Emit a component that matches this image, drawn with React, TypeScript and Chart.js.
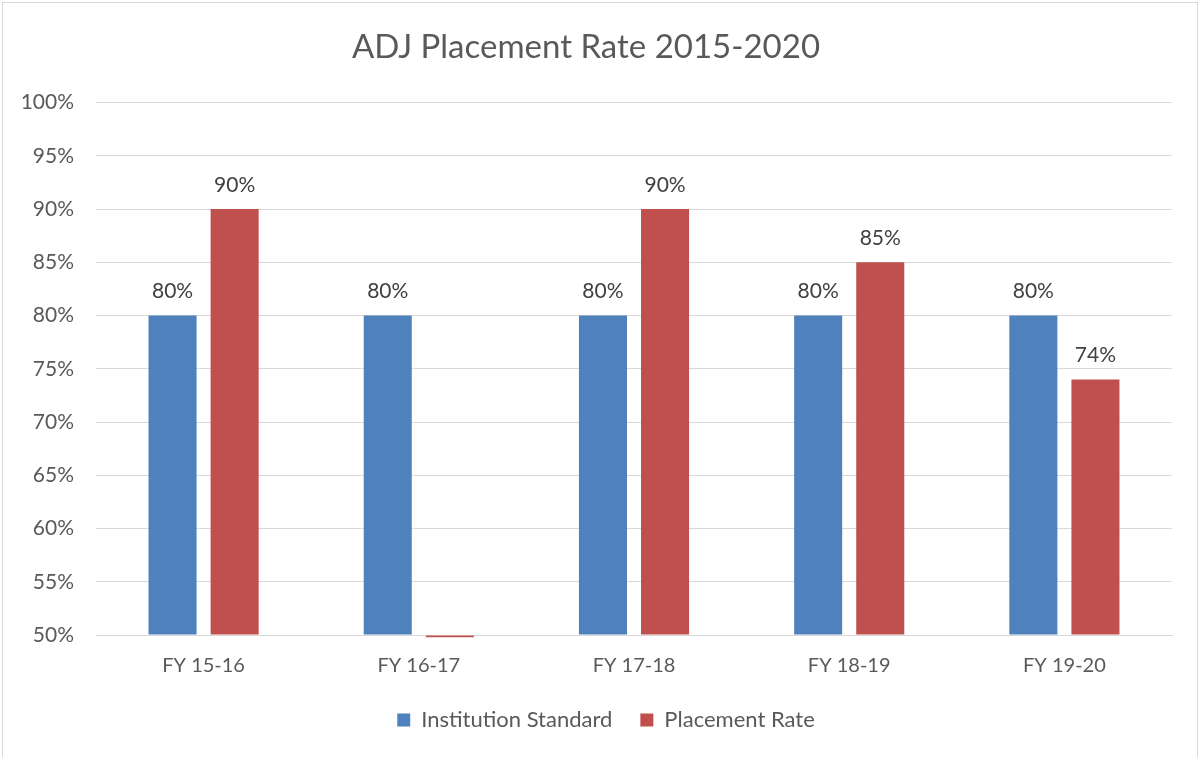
import React, { useEffect, useRef } from "react";
import { Chart, registerables } from "chart.js";

Chart.register(...registerables);

const categories = ["FY 15-16", "FY 16-17", "FY 17-18", "FY 18-19", "FY 19-20"];
const institutionStandard = [80, 80, 80, 80, 80];
const placementRate = [90, 49.8, 90, 85, 74];
const seriesNames = ["Institution Standard", "Placement Rate"];
const yTicks = [50, 55, 60, 65, 70, 75, 80, 85, 90, 95, 100];
const titleText = "ADJ Placement Rate 2015-2020";

const FONT = "Lato, 'Open Sans', sans-serif";

const labelPlugin = {
  id: "barLabels",
  afterLayout(chart: any) {
    // center the legend on the full canvas width
    if (chart.legend) {
      chart.legend.left += 20;
      chart.legend.right += 20;
    }
  },
  afterDatasetsDraw(chart: any) {
    const ctx = chart.ctx;
    const yScale = chart.scales.y;
    ctx.save();
    ctx.font = `21px ${FONT}`;
    ctx.fillStyle = "#404040";
    ctx.textAlign = "center";
    ctx.textBaseline = "middle";
    chart.data.datasets.forEach((ds: any, di: number) => {
      const meta = chart.getDatasetMeta(di);
      meta.data.forEach((bar: any, i: number) => {
        const v = ds.data[i];
        if (v < yScale.min) return;
        ctx.fillText(`${v}%`, bar.x, bar.y - 24);
      });
    });
    ctx.restore();
  },
};

export default function App() {
  const ref = useRef<HTMLCanvasElement>(null);
  useEffect(() => {
    document.body.style.margin = "0";
    const chart = new Chart(ref.current!, {
      type: "bar",
      data: {
        labels: categories,
        datasets: [
          {
            label: seriesNames[0],
            data: institutionStandard,
            backgroundColor: "#4F81BD",
            categoryPercentage: 0.577,
            barPercentage: 0.774,
            base: 50,
            clip: false,
          } as any,
          {
            label: seriesNames[1],
            data: placementRate,
            backgroundColor: "#C0504D",
            categoryPercentage: 0.577,
            barPercentage: 0.774,
            base: 50,
            clip: false,
          } as any,
        ],
      },
      options: {
        animation: false,
        responsive: false,
        maintainAspectRatio: false,
        layout: { padding: { left: 0, right: 28, top: 0, bottom: 16 } },
        plugins: {
          title: {
            display: true,
            text: titleText,
            color: "#595959",
            font: { family: FONT, size: 33, weight: "normal" },
            padding: { top: 28, bottom: 35 },
          },
          legend: {
            position: "bottom",
            labels: {
              color: "#595959",
              font: { family: FONT, size: 22 },
              boxWidth: 13,
              boxHeight: 13,
              padding: 28,
            },
          },
          tooltip: { enabled: false },
        },
        scales: {
          x: {
            grid: { display: false, drawTicks: false },
            border: { display: true, color: "#d9d9d9", width: 1 },
            ticks: { color: "#595959", font: { family: FONT, size: 20 }, padding: 19 },
            afterFit: (s: any) => { s.height = 46; },
          },
          y: {
            min: 50,
            max: 100,
            afterBuildTicks: (s: any) => { s.ticks = yTicks.map((v) => ({ value: v })); },
            grid: { color: "#d9d9d9", drawTicks: false },
            border: { display: false },
            ticks: {
              color: "#595959",
              font: { family: FONT, size: 21 },
              padding: 22,
              callback: (v: any) => `${v}%`,
            },
            afterFit: (s: any) => { s.width = 96; },
          },
        },
      },
      plugins: [labelPlugin],
    });
    return () => chart.destroy();
  }, []);
  return (
    <div style={{ position: "relative", width: 1200, height: 757 }}>
      <canvas ref={ref} width={1200} height={757} style={{ display: "block" }} />
      <div
        style={{
          position: "absolute",
          left: 2,
          top: 2,
          width: 1196,
          height: 760,
          border: "1px solid #d9d9d9",
          boxSizing: "border-box",
          pointerEvents: "none",
        }}
      />
    </div>
  );
}
